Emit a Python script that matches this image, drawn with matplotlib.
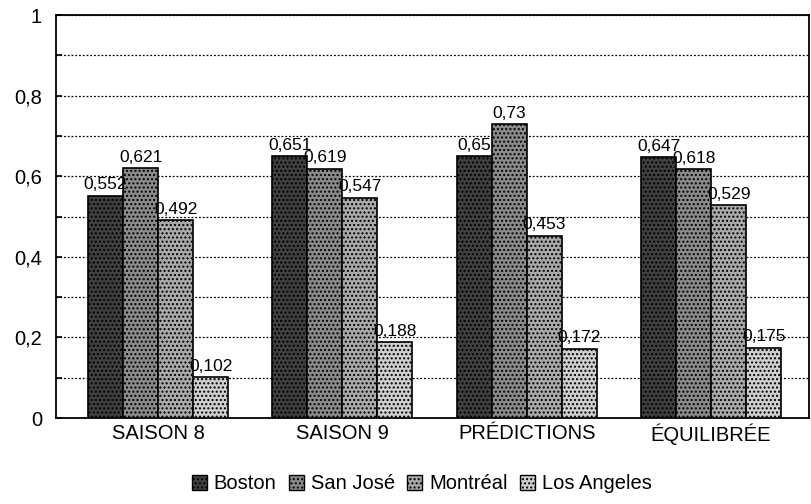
import numpy as np
import matplotlib
matplotlib.use("Agg")
import matplotlib.pyplot as plt
from matplotlib.patches import Patch

plt.rcParams['font.family'] = ['Liberation Sans', 'DejaVu Sans']

# --- Data ---
categories = ["SAISON 8", "SAISON 9", "PRÉDICTIONS", "ÉQUILIBRÉE"]
teams = ["Boston", "San José", "Montréal", "Los Angeles"]
boston = [0.552, 0.651, 0.65, 0.647]
san_jose = [0.621, 0.619, 0.73, 0.618]
montreal = [0.492, 0.547, 0.453, 0.529]
los_angeles = [0.102, 0.188, 0.172, 0.175]
labels = [
    ["0,552", "0,651", "0,65", "0,647"],
    ["0,621", "0,619", "0,73", "0,618"],
    ["0,492", "0,547", "0,453", "0,529"],
    ["0,102", "0,188", "0,172", "0,175"],
]

series = [boston, san_jose, montreal, los_angeles]
faces = ["#404040", "#8a8a8a", "#aaaaaa", "#cfcfcf"]

fig = plt.figure(figsize=(8.11, 5.04), dpi=100)
ax = fig.add_axes([0.0690, 0.1706, 0.929, 0.7994])

x = np.arange(len(categories))
width = 0.19
for i, vals in enumerate(series):
    pos = x + (i - 1.5) * width
    ax.bar(pos, vals, width, color=faces[i], edgecolor="black",
           linewidth=1.2, hatch="....", zorder=3)
    for p, v, s in zip(pos, vals, labels[i]):
        ax.text(p, v + 0.008, s, ha="center", va="bottom", fontsize=12.5, zorder=4)

ax.set_xlim(-0.554, 3.533)
ax.set_ylim(0, 1)
ax.set_yticks(np.arange(0, 1.01, 0.2))
ax.set_yticklabels(["0", "0,2", "0,4", "0,6", "0,8", "1"], fontsize=14.5)
ax.set_yticks(np.arange(0.1, 1.0, 0.2), minor=True)
ax.yaxis.grid(True, which="both", linestyle=(0, (1.5, 1.5)), color="black",
              linewidth=0.9, zorder=0)
ax.tick_params(axis="y", which="both", length=4, width=1.2, direction="in", pad=10)
ax.set_xticks(x)
ax.set_xticklabels(categories, fontsize=14.5)
ax.tick_params(axis="x", length=0, pad=4)
for sp in ax.spines.values():
    sp.set_linewidth(1.3)

handles = [Patch(facecolor=faces[i], edgecolor="black", hatch="....", label=teams[i])
           for i in range(4)]
fig.legend(handles=handles, loc="center", bbox_to_anchor=(0.52, 0.04), ncol=4,
           frameon=False, fontsize=14.5, handlelength=0.75, handleheight=0.75,
           handletextpad=0.35, columnspacing=0.6)

fig.savefig("out.png", dpi=100, facecolor="white")
